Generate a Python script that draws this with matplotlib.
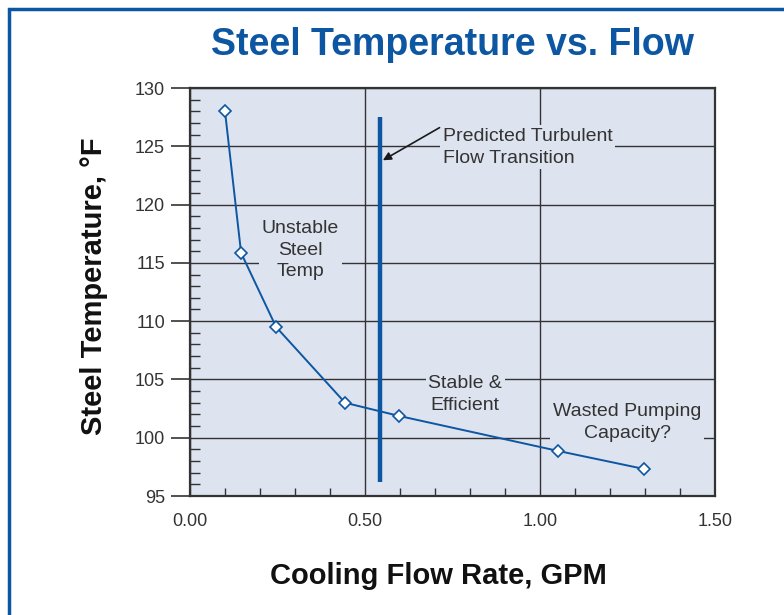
import matplotlib
matplotlib.use("Agg")
import matplotlib.pyplot as plt
from matplotlib.patches import Rectangle
from matplotlib.ticker import MultipleLocator

plt.rcParams['font.family'] = ['Liberation Sans', 'DejaVu Sans']

# data
flow = [0.10, 0.146, 0.246, 0.443, 0.597, 1.051, 1.297]
temp = [128.0, 115.85, 109.5, 103.0, 101.87, 98.87, 97.32]
transition_x = 0.543
transition_y = [96.2, 127.5]

blue = '#0d56a2'
bg = '#dde3ef'
dark = '#333333'

fig = plt.figure(figsize=(7.84, 6.15), dpi=100)
ax = fig.add_axes([190/784, 1 - 496/615, 525/784, 408/615])
ax.set_facecolor(bg)

# frame of the figure (blue edge on top and left)
fig.patches.append(Rectangle((9/784, -0.1), 1.0, 1.1 - 9/615, transform=fig.transFigure,
                             fill=False, edgecolor=blue, linewidth=2.5))

ax.set_xlim(0, 1.5)
ax.set_ylim(95, 130)
ax.xaxis.set_major_locator(MultipleLocator(0.5))
ax.xaxis.set_minor_locator(MultipleLocator(0.1))
ax.yaxis.set_major_locator(MultipleLocator(5))
ax.yaxis.set_minor_locator(MultipleLocator(1))
ax.xaxis.set_major_formatter(lambda v, p: f"{v:.2f}")
ax.grid(True, which='major', color=dark, linewidth=1.0)
ax.set_axisbelow(True)

ax.tick_params(axis='x', which='major', length=0, pad=12, labelsize=13, labelcolor=dark)
ax.tick_params(axis='x', which='minor', direction='in', length=6, color=dark, width=1)
ax.tick_params(axis='y', which='major', direction='out', length=14, width=1.2, color=dark,
               pad=4, labelsize=13, labelcolor=dark)
ax.tick_params(axis='y', which='minor', direction='in', length=7, color=dark, width=1)
for s in ax.spines.values():
    s.set_color(dark)
    s.set_linewidth(1.6)

ax.plot(flow, temp, color=blue, linewidth=1.4, marker='D', markersize=6,
        markerfacecolor='white', markeredgecolor=blue, markeredgewidth=1.2, zorder=4)
ax.plot([transition_x, transition_x], transition_y, color=blue, linewidth=3.2,
        solid_capstyle='butt', zorder=3)

# labels sit on top of the grid, hiding it behind them
box = dict(facecolor=bg, edgecolor='none', pad=2)
tkw = dict(fontsize=14, color=dark, linespacing=1.35, zorder=2)
ax.text(0.315, 116.1, "Unstable\nSteel\nTemp", ha='center', va='center', bbox=box, **tkw)
ax.text(0.786, 103.7, "Stable &\nEfficient", ha='center', va='center', bbox=box, **tkw)
ax.text(1.249, 101.3, "Wasted Pumping\nCapacity?", ha='center', va='center', bbox=box, **tkw)
ax.text(0.722, 124.9, "Predicted Turbulent\nFlow Transition", ha='left', va='center',
        bbox=box, **tkw)
ax.annotate("", xy=(0.551, 123.8), xytext=(0.713, 126.6),
            arrowprops=dict(arrowstyle='-|>', color='#1a1a1a', lw=1.2,
                            mutation_scale=12, shrinkA=0, shrinkB=0), zorder=5)

fig.text(452/784, 1 - 45/615, "Steel Temperature vs. Flow", ha='center', va='center',
         fontsize=27, fontweight='bold', color=blue)
fig.text(94/784, 1 - 286/615, "Steel Temperature, °F", rotation=90, ha='center',
         va='center', fontsize=21, fontweight='bold', color='#111111')
fig.text(438/784, 1 - 576/615, "Cooling Flow Rate, GPM", ha='center', va='center',
         fontsize=21, fontweight='bold', color='#111111')

fig.savefig("out.png", dpi=100, facecolor='white')
